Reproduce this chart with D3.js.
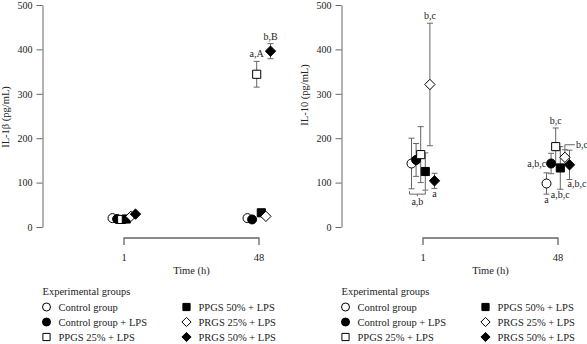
<!DOCTYPE html>
<html>
<head>
<meta charset="utf-8">
<script src="https://cdn.jsdelivr.net/npm/d3@7"></script>
<style>
  body { margin: 0; background: #fff; }
  svg { display: block; font-family: "Liberation Serif", "Times New Roman", serif; }
</style>
</head>
<body>
<svg id="chart" width="587" height="344"></svg>
<script>
// groups and symbols
const groups = ["Control group", "Control group + LPS", "PPGS 25% + LPS",
  "PPGS 50% + LPS", "PRGS 25% + LPS", "PRGS 50% + LPS"];
const shapes = ["circle", "circle", "square", "square", "diamond", "diamond"];
const filled = [false, true, false, true, false, true];
const times = ["1", "48"];
const yTicks = [0, 100, 200, 300, 400, 500];

// IL-1b, rows = time
const il1bMean = [[20, 18, 17, 18, 24, 29], [20, 17, 344, 32, 24, 396]];
const il1bErr = [[3, 3, 3, 3, 3, 3], [3, 3, 29, 6, 3, 17]];
const il1bLabels = [
  { t: 1, g: 2, text: "a,A", pos: "above" },
  { t: 1, g: 5, text: "b,B", pos: "above" }
];

// IL-10
const il10Mean = [[143, 151, 163, 125, 321, 104], [98, 143, 181, 133, 157, 140]];
const il10Err = [[57, 37, 63, 42, 138, 17], [24, 23, 42, 48, 17, 33]];
const il10Labels = [
  { t: 0, g: 4, text: "b,c", pos: "above" },
  { t: 0, g: 5, text: "a", pos: "below" },
  { t: 0, g: [0, 3], text: "a,b", pos: "bracket" },
  { t: 1, g: 0, text: "a", pos: "below" },
  { t: 1, g: 1, text: "a,b,c", pos: "left" },
  { t: 1, g: 2, text: "b,c", pos: "above" },
  { t: 1, g: 4, text: "b,c", pos: "connector" },
  { t: 1, g: 3, text: "a,b,c", pos: "below" },
  { t: 1, g: 5, text: "a,b,c", pos: "belowright" }
];

const svg = d3.select("#chart");
const gray = "#666";
const ink = "#222";

const symbolPath = (shape, r) => {
  if (shape === "circle") return d3.symbol().type(d3.symbolCircle).size(Math.PI * r * r)();
  if (shape === "square") return `M${-r * 0.9},${-r * 0.9}h${r * 1.8}v${r * 1.8}h${-r * 1.8}Z`;
  const d = r * 1.15;
  return `M0,${-d}L${d},0L0,${d}L${-d},0Z`;
};

function drawPanel({ x0, axisX, xStart, xEnd, yTitle, titleY, mean, err, labels }) {
  const g = svg.append("g").attr("transform", `translate(${x0},0)`);
  const y = d3.scaleLinear().domain([0, 500]).range([227, 5]);
  const x = d3.scalePoint().domain(times).range([xStart, xEnd]);
  const off = d3.scalePoint().domain(d3.range(groups.length)).range([-11.5, 11.5]);
  const px = (t, gi) => x(times[t]) + off(gi);

  const ax = g.append("g").attr("transform", `translate(${axisX},0)`)
    .call(d3.axisLeft(y).tickValues(yTicks).tickSize(6).tickSizeOuter(0).tickPadding(4));
  ax.attr("font-family", null);
  ax.select(".domain").attr("stroke", gray);
  ax.selectAll(".tick line").attr("stroke", gray);
  ax.selectAll(".tick text").attr("fill", ink).style("font-size", "10px");

  g.append("text")
    .attr("transform", `translate(${axisX - 34},${titleY}) rotate(-90)`)
    .attr("text-anchor", "middle")
    .style("font-size", "10.5px").attr("fill", ink)
    .text(yTitle);

  // x bracket
  g.append("path")
    .attr("d", `M${x(times[0])},245V238H${x(times[1])}V245`)
    .attr("fill", "none").attr("stroke", gray).attr("stroke-width", 1.3);
  times.forEach(t => {
    g.append("text").attr("x", x(t)).attr("y", 261)
      .attr("text-anchor", "middle").style("font-size", "10.5px").attr("fill", ink).text(t);
  });
  g.append("text").attr("x", (x(times[0]) + x(times[1])) / 2).attr("y", 274)
    .attr("text-anchor", "middle").style("font-size", "10.5px").attr("fill", ink).text("Time (h)");

  // error bars
  times.forEach((t, ti) => {
    groups.forEach((name, gi) => {
      const cx = px(ti, gi), m = mean[ti][gi], e = err[ti][gi];
      g.append("path")
        .attr("d", `M${cx},${y(m + e)}V${y(m - e)}M${cx - 3},${y(m + e)}h6M${cx - 3},${y(m - e)}h6`)
        .attr("stroke", gray).attr("stroke-width", 1).attr("fill", "none");
    });
  });
  // points
  times.forEach((t, ti) => {
    groups.forEach((name, gi) => {
      g.append("path")
        .attr("d", symbolPath(shapes[gi], 4.5))
        .attr("transform", `translate(${px(ti, gi)},${y(mean[ti][gi])})`)
        .attr("fill", filled[gi] ? "#000" : "#fff")
        .attr("stroke", "#000").attr("stroke-width", 1);
    });
  });

  // significance labels
  labels.forEach(l => {
    const txt = g.append("text").style("font-size", "10px").attr("fill", ink).text(l.text);
    if (l.pos === "bracket") {
      const [a, b] = l.g;
      const xa = px(l.t, a) - 2, xb = px(l.t, b);
      const lo = d3.min(d3.range(a, b + 1), i => mean[l.t][i] - err[l.t][i]);
      const by = y(lo) + 4;
      g.append("path").attr("d", `M${xa},${by - 3}V${by}H${xb}V${by - 3}M${(xa + xb) / 2},${by}v2`)
        .attr("stroke", gray).attr("fill", "none");
      txt.attr("x", (xa + xb) / 2).attr("y", by + 11).attr("text-anchor", "middle");
      return;
    }
    const cx = px(l.t, l.g), m = mean[l.t][l.g], e = err[l.t][l.g];
    if (l.pos === "above") {
      txt.attr("x", cx).attr("y", y(m + e) - 4).attr("text-anchor", "middle");
    } else if (l.pos === "below") {
      txt.attr("x", cx).attr("y", y(m - e) + 9).attr("text-anchor", "middle");
    } else if (l.pos === "left") {
      txt.attr("x", cx - 5).attr("y", y(m) + 3.5).attr("text-anchor", "end");
    } else if (l.pos === "belowright") {
      txt.attr("x", cx - 2).attr("y", y(m - e) + 8).attr("text-anchor", "start");
    } else if (l.pos === "connector") {
      const ty = y(m + e) - 5;
      g.append("path").attr("d", `M${cx},${y(m + e)}V${ty}H${cx + 10}`)
        .attr("stroke", gray).attr("fill", "none");
      txt.attr("x", cx + 11).attr("y", ty + 3.5).attr("text-anchor", "start");
    }
  });

  // legend
  const lg = g.append("g");
  lg.append("text").attr("x", axisX).attr("y", 295).style("font-size", "10.5px")
    .attr("fill", ink).text("Experimental groups");
  groups.forEach((name, gi) => {
    const col = Math.floor(gi / 3), row = gi % 3;
    const sx = axisX + 4 + col * 140, sy = 307 + row * 15;
    lg.append("path")
      .attr("d", symbolPath(shapes[gi], 4))
      .attr("transform", `translate(${sx},${sy})`)
      .attr("fill", filled[gi] ? "#000" : "#fff")
      .attr("stroke", "#000").attr("stroke-width", 1);
    lg.append("text").attr("x", sx + 12).attr("y", sy + 4).style("font-size", "10.5px")
      .attr("fill", ink).text(name);
  });
}

drawPanel({ x0: 0, axisX: 42.5, xStart: 124, xEnd: 259, yTitle: "IL-1\u03B2 (pg/mL)",
  titleY: 117, mean: il1bMean, err: il1bErr, labels: il1bLabels });
drawPanel({ x0: 299, axisX: 42.5, xStart: 124, xEnd: 259, yTitle: "IL-10 (pg/mL)",
  titleY: 95, mean: il10Mean, err: il10Err, labels: il10Labels });
</script>
</body>
</html>
